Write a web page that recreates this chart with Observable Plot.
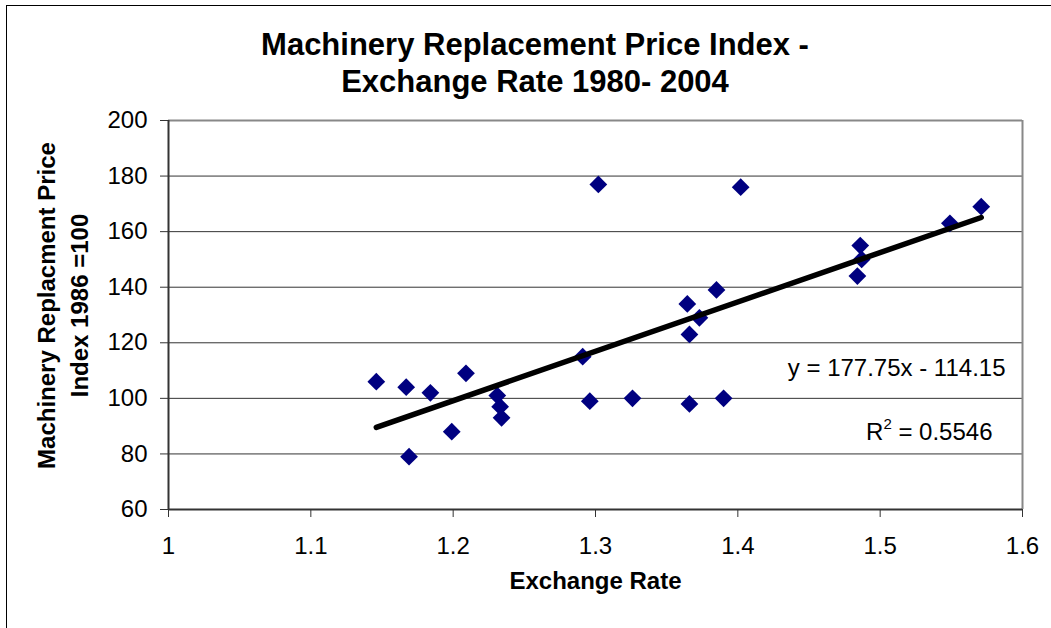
<!DOCTYPE html>
<html>
<head>
<meta charset="utf-8">
<script src="https://cdn.jsdelivr.net/npm/d3@7"></script>
<script src="https://cdn.jsdelivr.net/npm/@observablehq/plot@0.6"></script>
<style>
  html, body { margin: 0; padding: 0; background: #fff; }
  #wrap { position: relative; width: 1051px; height: 628px; overflow: hidden; background: #fff;
          font-family: "Liberation Sans", Arial, sans-serif; }
  #border { position: absolute; left: 6px; top: 5px; right: -2px; bottom: -2px;
            border-left: 1px solid #000; border-top: 1px solid #000; pointer-events: none; z-index: 3; }
  #title { box-sizing: border-box; width: 1051px; height: 110px; padding-top: 26px; padding-left: 19px;
           text-align: center; font-weight: bold; font-size: 31px; line-height: 37px; color: #000; }
  #chart svg { display: block; background: transparent; overflow: visible; }
</style>
</head>
<body>
<div id="wrap">
  <div id="border"></div>
  <div id="title">Machinery Replacement Price Index -<br>Exchange Rate 1980- 2004</div>
  <div id="chart"></div>
</div>
<script>
// Data
const exchangeRate = [1.146, 1.167, 1.169, 1.184, 1.199, 1.209, 1.231, 1.233, 1.234, 1.291,
                      1.296, 1.302, 1.326, 1.3645, 1.366, 1.366, 1.373, 1.385, 1.390, 1.402,
                      1.484, 1.486, 1.487, 1.549, 1.571];
const priceIndex   = [106, 104, 79, 102, 88, 109, 101, 97, 93, 115,
                      99, 177, 100, 134, 123, 98, 129, 139, 100, 176,
                      144, 155, 150, 163, 169];
const xTicks = [1, 1.1, 1.2, 1.3, 1.4, 1.5, 1.6];
const xTickLabels = ["1", "1.1", "1.2", "1.3", "1.4", "1.5", "1.6"];
const yTicks = [60, 80, 100, 120, 140, 160, 180, 200];
const trendSlope = 177.75;
const trendIntercept = -114.15;
const equationLabel = "y = 177.75x - 114.15";
const r2Label = "R2 = 0.5546";
const xTitle = "Exchange Rate";
const yTitle = "Machinery Replacment Price\nIndex 1986 =100";

const points = exchangeRate.map((x, i) => ({x, y: priceIndex[i]}));
const xExt = d3.extent(exchangeRate);
const trend = xExt.map(x => ({x, y: trendSlope * x + trendIntercept}));

const font = "'Liberation Sans', Arial, sans-serif";

const chart = Plot.plot({
  width: 1051,
  height: 518,
  marginTop: 10,
  marginBottom: 119,
  marginLeft: 168,
  marginRight: 29,
  style: {fontFamily: font, fontSize: "24px", color: "#000", background: "transparent", overflow: "visible"},
  x: {domain: [xTicks[0], xTicks[xTicks.length - 1]]},
  y: {domain: [yTicks[0], yTicks[yTicks.length - 1]]},
  marks: [
    Plot.ruleY(yTicks.slice(1, -1), {stroke: "#333", strokeWidth: 1}),
    Plot.ruleY([yTicks[yTicks.length - 1]], {stroke: "#888", strokeWidth: 2}),
    Plot.ruleX([xTicks[xTicks.length - 1]], {stroke: "#888", strokeWidth: 2}),
    Plot.axisX({ticks: xTicks, tickFormat: (d, i) => xTickLabels[i], tickSize: 8, tickPadding: 19,
                fontSize: 24, label: null, stroke: "#333"}),
    Plot.axisY({ticks: yTicks, tickSize: 8, tickPadding: 13, fontSize: 24, label: null, stroke: "#333"}),
    Plot.ruleX([xTicks[0]], {stroke: "#333", strokeWidth: 2}),
    Plot.ruleY([yTicks[0]], {stroke: "#333", strokeWidth: 2}),
    Plot.dot(points, {x: "x", y: "y", symbol: "diamond2", r: 8, fill: "#000080", stroke: "none"}),
    Plot.line(trend, {x: "x", y: "y", stroke: "#000", strokeWidth: 5.5}),
    Plot.text([equationLabel], {frameAnchor: "right", textAnchor: "end", dx: -17, dy: 53.5,
                                fontSize: 24, fill: "#000"}),
    Plot.text([r2Label], {frameAnchor: "right", textAnchor: "end", dx: -30, dy: 117.5,
                          fontSize: 24, fill: "#000", className: "r2label"}),
    Plot.text([xTitle], {frameAnchor: "bottom", dy: 79, fontSize: 24, fontWeight: "bold", fill: "#000"}),
    Plot.text([yTitle], {frameAnchor: "left", textAnchor: "middle", dx: -107.5, dy: -9.5, rotate: -90,
                         lineHeight: 1.375, fontSize: 24, fontWeight: "bold", fill: "#000"})
  ]
});
// render the "2" of R2 as a superscript
d3.select(chart).selectAll(".r2label text").each(function () {
  const t = d3.select(this);
  const s = t.text();
  t.text(null);
  t.append("tspan").text(s.slice(0, 1));
  t.append("tspan").attr("font-size", "15px").attr("dy", "-0.75em").text(s.slice(1, 2));
  t.append("tspan").attr("dy", "0.47em").text(s.slice(2));
});
document.getElementById("chart").appendChild(chart);
</script>
</body>
</html>
